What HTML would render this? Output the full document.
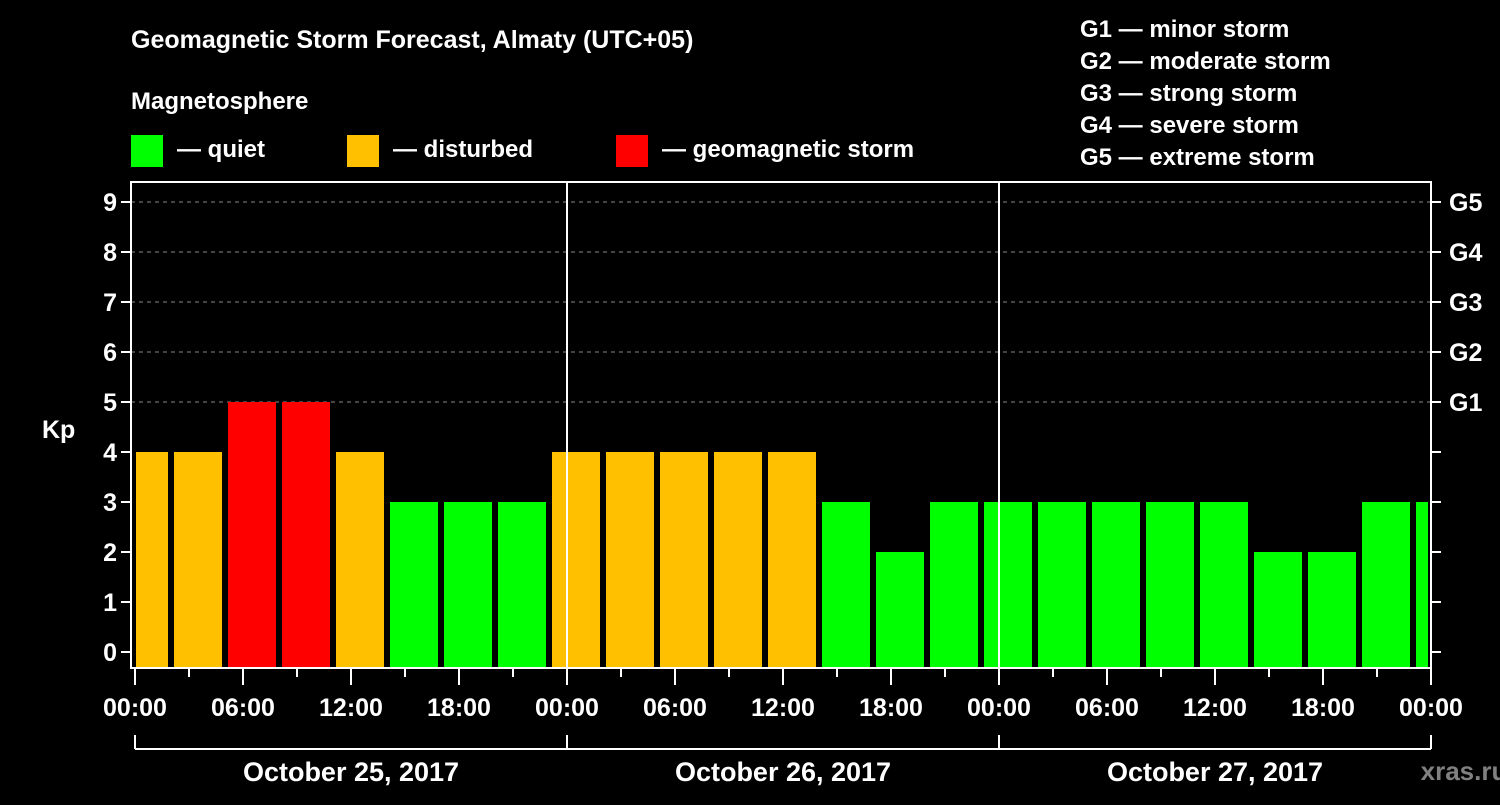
<!DOCTYPE html>
<html><head><meta charset="utf-8"><style>
body{margin:0;background:#000;width:1500px;height:800px;overflow:hidden}
text{font-family:"Liberation Sans",sans-serif;font-weight:bold;fill:#fff}
</style></head><body>
<svg id="c" width="1500" height="800">
<text x="131" y="48" font-size="25">Geomagnetic Storm Forecast, Almaty (UTC+05)</text>
<text x="131" y="109" font-size="24">Magnetosphere</text>
<g><rect x="131" y="135" width="32" height="32" fill="#00ff00"/><text x="177" y="157" font-size="24">— quiet</text></g>
<g><rect x="347" y="135" width="32" height="32" fill="#ffc000"/><text x="393" y="157" font-size="24">— disturbed</text></g>
<g><rect x="616" y="135" width="32" height="32" fill="#ff0000"/><text x="662" y="157" font-size="24">— geomagnetic storm</text></g>
<g font-size="24">
<text x="1080" y="37">G1 — minor storm</text><text x="1080" y="69">G2 — moderate storm</text><text x="1080" y="101">G3 — strong storm</text><text x="1080" y="133">G4 — severe storm</text><text x="1080" y="165">G5 — extreme storm</text></g>
<text x="42" y="438" font-size="25">Kp</text>
<text x="1464" y="780" font-size="26" style="fill:#808080" text-anchor="middle">xras.ru</text>
<g id="plot"></g>
</svg>
<script>
const values=[4,4,5,5,4,3,3,3,4,4,4,4,4,3,2,3,3,3,3,3,3,2,2,3,3];
const dates=["October 25, 2017","October 26, 2017","October 27, 2017"];
const hourLabels=["00:00","06:00","12:00","18:00"];
const gLabels=["G1","G2","G3","G4","G5"];
const NS="http://www.w3.org/2000/svg";
const g=document.getElementById('plot');
const X=h=>135+h*18, Y=v=>652-v*50;
const L=131,R=1431,T=182,B=668;
function mk(t,a){const e=document.createElementNS(NS,t);for(const k in a)e.setAttribute(k,a[k]);g.appendChild(e);return e;}
for(let v=5;v<=9;v++){const l=mk('line',{x1:L,x2:R,y1:Y(v),y2:Y(v),stroke:'#888','stroke-dasharray':'4,4','stroke-width':1});

}
function col(v){return v>=5?'#ff0000':v>=4?'#ffc000':'#00ff00';}
values.forEach((v,i)=>{let x1=i==0?X(0)+1:X(2+3*(i-1))+3;let x2=X(2+3*i)-3;x2=Math.min(x2,R-3);
const r=mk('rect',{x:x1,y:Y(v),width:x2-x1,height:B-Y(v),fill:col(v)});

});
[24,48].forEach(h=>{const l=mk('line',{x1:X(h),x2:X(h),y1:T,y2:B,stroke:'#fff','stroke-width':2});

});
const fr=mk('rect',{x:L,y:T,width:R-L,height:B-T,fill:'none',stroke:'#fff','stroke-width':2});


for(let v=0;v<=9;v++){mk('line',{x1:L-10,x2:L,y1:Y(v),y2:Y(v),stroke:'#fff','stroke-width':2});mk('line',{x1:R,x2:R+10,y1:Y(v),y2:Y(v),stroke:'#fff','stroke-width':2});
const t=mk('text',{x:L-14,y:Y(v)+9,'font-size':25,'text-anchor':'end'});t.textContent=v;

}
gLabels.forEach((s,i)=>{const t=mk('text',{x:R+18,y:Y(5+i)+9,'font-size':25});t.textContent=s;

});
for(let h=0;h<=72;h+=3){const major=h%6==0;mk('line',{x1:X(h),x2:X(h),y1:B,y2:major?685:677,stroke:'#fff','stroke-width':2});
if(major){const t=mk('text',{x:X(h),y:716,'font-size':25,'text-anchor':'middle'});t.textContent=hourLabels[(h%24)/6];

}}
mk('line',{x1:X(0),x2:X(72),y1:749,y2:749,stroke:'#fff','stroke-width':2});
dates.forEach((d,i)=>{mk('line',{x1:X(24*i),x2:X(24*i),y1:735,y2:749,stroke:'#fff','stroke-width':2});
const t=mk('text',{x:X(24*i+12),y:781,'font-size':27,'text-anchor':'middle'});t.textContent=d;

});
mk('line',{x1:X(72),x2:X(72),y1:735,y2:749,stroke:'#fff','stroke-width':2});
</script>
</body></html>
